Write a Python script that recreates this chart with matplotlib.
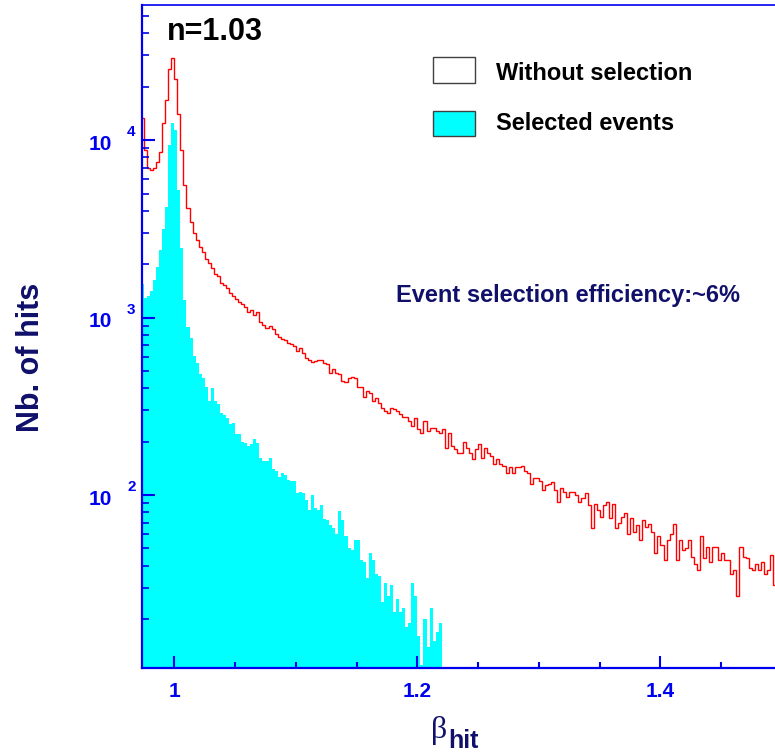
import numpy as np
import matplotlib
matplotlib.use('Agg')
import matplotlib.pyplot as plt
from matplotlib.patches import Rectangle
from matplotlib.ticker import MultipleLocator, LogLocator, NullFormatter
from matplotlib import transforms

plt.rcParams['font.family'] = ['Liberation Sans', 'DejaVu Sans']

# binning of beta_hit (0.0025 per bin)
beta_lo = 0.9725
bin_w = 0.0025
n_bins = 211

# all hits, no event selection
hits_all = [13300, 8780, 6950, 6770, 6950, 7500, 8550, 12500, 16800, 25000,
            29000, 22000, 14000, 8780, 5560, 4130, 3440, 2990, 2725, 2490,
            2330, 2130, 2020, 1890, 1750, 1710, 1560, 1520, 1460, 1380,
            1330, 1280, 1230, 1200, 1140, 1080, 1100, 1040, 1070, 950,
            910, 875, 900, 865, 810, 780, 760, 750, 715, 705,
            695, 652, 670, 635, 595, 580, 565, 572, 580, 580,
            555, 550, 485, 510, 485, 478, 441, 435, 455, 460,
            455, 405, 405, 355, 387, 375, 340, 350, 330, 310,
            298, 290, 310, 306, 298, 287, 275, 275, 262, 245,
            270, 237, 225, 262, 230, 240, 240, 230, 225, 237,
            185, 225, 190, 182, 172, 172, 198, 185, 172, 160,
            182, 195, 162, 185, 172, 166, 150, 160, 150, 146,
            133, 143, 133, 143, 143, 146, 137, 133, 116, 125,
            124, 120, 107, 114, 116, 118, 107, 91, 110, 104,
            97, 104, 104, 100, 91, 96, 103, 88, 65, 89,
            82, 75, 88, 91, 74, 89, 65, 70, 75, 79,
            60, 74, 62, 68, 56, 72, 66, 69, 62, 47,
            59, 52, 43, 56, 60, 69, 43, 56, 49, 50,
            56, 45, 41, 38, 59, 44, 51, 42, 51, 51,
            43, 47, 43, 43, 36, 38, 27, 51, 45, 44,
            39, 38, 41, 38, 42, 36, 38, 46, 31, 34,
            21]

# hits of the selected events
hits_sel = [1555, 1297, 1330, 1420, 1620, 1915, 2390, 3140, 4180, 9370,
            12500, 11400, 5220, 2480, 1250, 880, 771, 610, 555, 483,
            455, 407, 340, 400, 340, 324, 290, 283, 270, 252,
            255, 221, 221, 199, 197, 190, 194, 208, 197, 162,
            156, 156, 162, 140, 137, 126, 133, 129, 121, 120,
            120, 103, 104, 103, 94, 82, 100, 84, 82, 88,
            73, 72, 68, 65, 60, 81, 72, 59, 50, 49,
            56, 56, 43, 42, 34, 47, 43, 36, 35, 25,
            32, 27, 31, 22, 26, 22, 23, 18, 19, 32,
            27, 16, 11, 20, 14, 23, 15, 17, 19]

decades = [100, 1000, 10000]
decade_exp = ['2', '3', '4']
xticks = [1.0, 1.2, 1.4]
xtick_labels = ['1', '1.2', '1.4']

blue = '#0000f0'
navy = '#10106b'

edges = beta_lo + bin_w*np.arange(n_bins+1)

fig = plt.figure(figsize=(7.75, 7.52), dpi=100)
ax = fig.add_axes([142/775, 1-668/752, 640/775, 663/752])

ax.stairs(hits_sel, edges[:len(hits_sel)+1], fill=True, color='#00ffff', baseline=1, lw=0)
ax.stairs(hits_all, edges, color='red', lw=1.0, baseline=None)

ax.set_yscale('log')
ax.set_xlim(0.9734, 1.5)
ax.set_ylim(10.6, 57700)

for s in ['left', 'bottom']:
    ax.spines[s].set_color(blue)
    ax.spines[s].set_linewidth(1.6)
ax.spines['top'].set_color(blue)
ax.spines['top'].set_linewidth(1.2)
ax.spines['right'].set_visible(False)

ax.set_xticks(xticks)
ax.set_xticklabels(xtick_labels)
ax.xaxis.set_minor_locator(MultipleLocator(0.05))
ax.tick_params(axis='x', which='major', direction='in', length=9, width=1.5,
               color=blue, labelcolor=blue, labelsize=15, pad=10)
ax.tick_params(axis='x', which='minor', direction='in', length=4.5, width=1.5, color=blue)
for lab in ax.get_xticklabels():
    lab.set_fontweight('bold')

ax.yaxis.set_minor_locator(LogLocator(base=10, subs=np.arange(2, 10)))
ax.yaxis.set_minor_formatter(NullFormatter())
ax.tick_params(axis='y', which='major', direction='in', length=9, width=1.5,
               color=blue, labelleft=False)
ax.tick_params(axis='y', which='minor', direction='in', length=4.8, width=1.2, color=blue)

# ROOT style "10" + detached exponent
ytrans = transforms.blended_transform_factory(fig.transFigure, ax.transData)
for v, e in zip(decades, decade_exp):
    t1 = transforms.offset_copy(ytrans, fig=fig, x=0, y=-4, units='dots')
    fig.text(112/775, v, '10', transform=t1, ha='right', va='center',
             fontsize=15, fontweight='bold', color=blue)
    t2 = transforms.offset_copy(ytrans, fig=fig, x=0, y=4, units='dots')
    fig.text(127/775, v, e, transform=t2, ha='left', va='baseline',
             fontsize=11, fontweight='bold', color=blue)

fig.text(31/775, 1-357/752, 'Nb. of hits', rotation=90, ha='center', va='center',
         fontsize=22, fontweight='bold', color=navy)
fig.text(439/775, 1-738/752, 'β', ha='center', va='baseline', fontsize=23,
         family=['Liberation Serif', 'DejaVu Serif'], color=navy)
fig.text(448/775, 1-748/752, 'hit', ha='left', va='baseline', fontsize=18,
         fontweight='bold', color=navy)

fig.text(167/775, 1-40/752, 'n=1.03', ha='left', va='baseline', fontsize=22,
         fontweight='bold', color='black')

# legend
fig.add_artist(Rectangle((433/775, 1-83/752), 42/775, 26/752, transform=fig.transFigure,
                         facecolor='white', edgecolor='#404040', lw=1))
fig.add_artist(Rectangle((433/775, 1-136/752), 42/775, 25/752, transform=fig.transFigure,
                         facecolor='#00ffff', edgecolor='#404040', lw=1))
fig.text(496/775, 1-80/752, 'Without selection', ha='left', va='baseline',
         fontsize=17, fontweight='bold', color='black')
fig.text(496/775, 1-130/752, 'Selected events', ha='left', va='baseline',
         fontsize=17, fontweight='bold', color='black')

fig.text(396/775, 1-301.5/752, 'Event selection efficiency:~6%', ha='left', va='baseline',
         fontsize=17, fontweight='bold', color=navy)

plt.savefig('out.png', dpi=100)
